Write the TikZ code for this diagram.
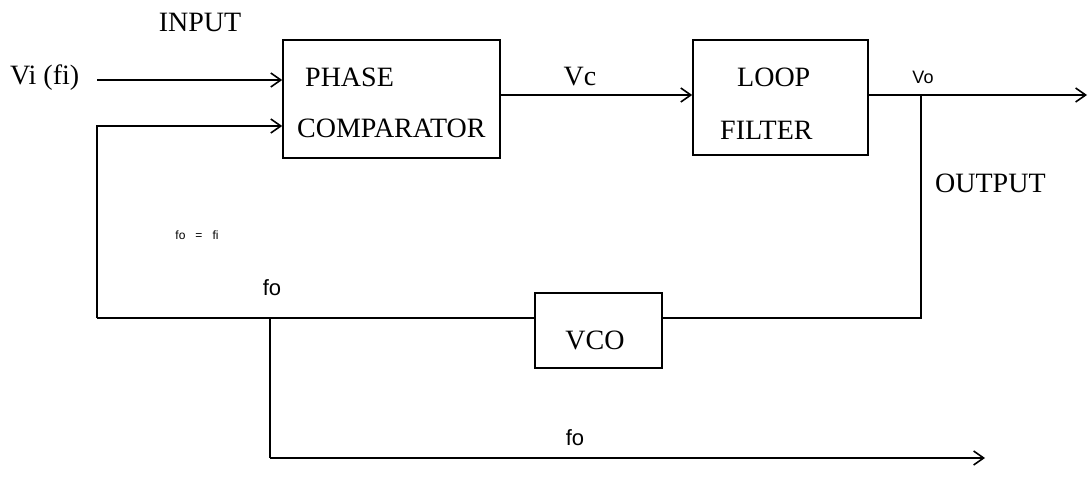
\documentclass[tikz,border=0pt]{standalone}
\usepackage{fontspec}
\setmainfont{Liberation Serif}
\newfontfamily\labsans{Liberation Sans}
\usetikzlibrary{arrows.meta}
\begin{document}
\begin{tikzpicture}[x=1pt,y=-1pt,
  blk/.style={draw,line width=1.6pt,inner sep=0pt},
  wire/.style={line width=1.8pt},
  arr/.style={wire,-{Straight Barb[length=10pt,width=14pt,line width=1.6pt]}},
  txt/.style={font=\fontsize{28}{32}\selectfont,inner sep=0pt},
  stxt/.style={font=\labsans\fontsize{22}{26}\selectfont,inner sep=0pt}]
\useasboundingbox (0,0) rectangle (1090,481);
\fill[white] (0,0) rectangle (1090,481);
% blocks
\node[blk,minimum width=217pt,minimum height=118pt] (pc) at (391.5,99) {};
\node[txt,anchor=west] (pct) at (305,77) {PHASE};
\node[txt,anchor=west] (pcb) at (297,128) {COMPARATOR};
\node[blk,minimum width=175pt,minimum height=115pt] (lf) at (780.5,97.5) {};
\node[txt,anchor=west] (lft) at (737,77) {LOOP};
\node[txt,anchor=west] (lfb) at (720,130) {FILTER};
\node[blk,minimum width=127pt,minimum height=75pt] (vco) at (598.5,330.5) {};
\node[txt] (vcot) at (595,340) {VCO};
% labels
\node[txt] (inp) at (200,22) {INPUT};
\node[txt,anchor=west] (vi) at (10,78) {Vi (fi)};
\node[txt] (vc) at (580,77) {Vc};
\node[stxt,font=\labsans\fontsize{18}{20}\selectfont] (vo) at (923,77) {Vo};
\node[txt,anchor=west] (out) at (935,183) {OUTPUT};
\node[stxt,font=\labsans\fontsize{12}{14}\selectfont] (eq) at (197,235) {fo\hspace{10pt}=\hspace{10pt}fi};
\node[stxt] (fo1) at (272,288) {fo};
\node[stxt] (fo2) at (575,438) {fo};
% coordinates
\coordinate (a1) at (97,80);
\coordinate (a2) at (97,126);
\coordinate (c1) at (97,318);
\coordinate (j1) at (270,318);
\coordinate (j2) at (270,458);
\coordinate (e2) at (985,458);
\coordinate (j3) at (921,95);
\coordinate (c3) at (921,318);
\coordinate (e1) at (1087,95);
% wires
\draw[arr] (a1) -- (a1 -| pc.west);
\draw[arr] (c1) -- (a2) -- (a2 -| pc.west);
\draw[arr] (pc.east |- e1) -- (lf.west |- e1);
\draw[arr] (lf.east |- e1) -- (e1);
\draw[wire] (j3) -- (c3) -- (vco.east |- c3);
\draw[wire] (vco.west |- c1) -- (c1);
\draw[wire,line width=1.2pt] (j1) -- (j2);
\draw[arr] (j2) -- (e2);
\end{tikzpicture}
\end{document}
